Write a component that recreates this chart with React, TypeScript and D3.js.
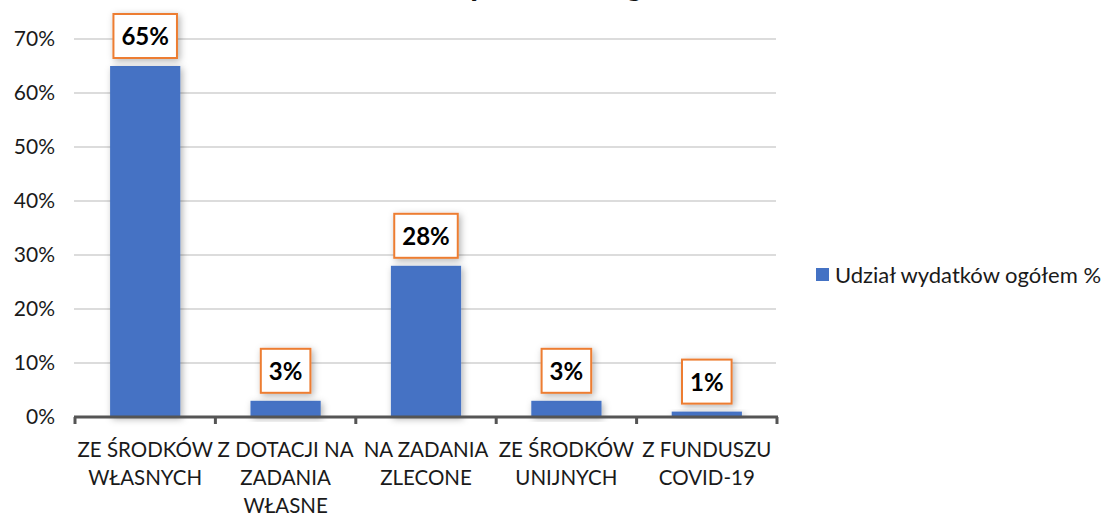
import * as d3 from "d3";
import { useEffect, useRef } from "react";

// data
const categories = [
  "ZE ŚRODKÓW\nWŁASNYCH",
  "Z DOTACJI NA\nZADANIA\nWŁASNE",
  "NA ZADANIA\nZLECONE",
  "ZE ŚRODKÓW\nUNIJNYCH",
  "Z FUNDUSZU\nCOVID-19",
];
const shares = [0.65, 0.03, 0.28, 0.03, 0.01];
const yTicks = [0, 0.1, 0.2, 0.3, 0.4, 0.5, 0.6, 0.7];
const seriesName = "Udział wydatków ogółem %";
const chartTitle = "Udział wydatków ogółem";

const W = 1107, H = 514;
const FONT = "Lato, 'Open Sans', sans-serif";

export default function App() {
  const ref = useRef<SVGSVGElement | null>(null);

  useEffect(() => {
    const svg = d3.select(ref.current);
    svg.selectAll("*").remove();

    const defs = svg.append("defs");
    const f = defs.append("filter").attr("id", "shadow")
      .attr("x", "-30%").attr("y", "-30%").attr("width", "160%").attr("height", "160%");
    f.append("feDropShadow").attr("dx", 2).attr("dy", 2)
      .attr("stdDeviation", 3.5).attr("flood-color", "#000").attr("flood-opacity", 0.3);

    svg.append("rect").attr("width", W).attr("height", H).attr("fill", "#fff");

    const x = d3.scaleBand<string>()
      .domain(categories)
      .range([75, 777])
      .paddingInner(0.5)
      .paddingOuter(0.25);
    const y = d3.scaleLinear().domain([0, 0.7]).range([417, 39]);

    // title (cut off at the top in the original, only descenders show)
    svg.append("text")
      .attr("x", 529).attr("y", -5)
      .attr("text-anchor", "middle")
      .style("font-family", FONT).style("font-weight", 700).style("font-size", "34px")
      .attr("fill", "#111")
      .text(chartTitle);

    // gridlines
    svg.append("g").selectAll("line")
      .data(yTicks.filter(d => d > 0))
      .join("line")
      .attr("x1", 74).attr("x2", 776)
      .attr("y1", d => y(d)).attr("y2", d => y(d))
      .attr("stroke", "#d0d0d0").attr("stroke-width", 1.3);

    // y tick labels
    svg.append("g").selectAll("text")
      .data(yTicks)
      .join("text")
      .attr("x", 55).attr("y", d => y(d) + 7)
      .attr("text-anchor", "end")
      .style("font-family", FONT).style("font-size", "21px")
      .attr("fill", "#1a1a1a")
      .text(d => d3.format(".0%")(d));

    // bars
    svg.append("g").selectAll("rect")
      .data(shares)
      .join("rect")
      .attr("x", (_, i) => x(categories[i])!)
      .attr("width", x.bandwidth())
      .attr("y", d => y(d))
      .attr("height", d => y(0) - y(d))
      .attr("fill", "#4472C4")
      .attr("filter", "url(#shadow)");

    // x axis
    const ax = svg.append("g");
    ax.append("line")
      .attr("x1", 74).attr("x2", 778).attr("y1", 417).attr("y2", 417)
      .attr("stroke", "#555").attr("stroke-width", 3);
    const tickX = [75, ...categories.map(c => x(c)! + x.bandwidth() + x.step() * 0.25)];
    tickX[tickX.length - 1] = 777;
    ax.selectAll("line.tk")
      .data(tickX)
      .join("line")
      .attr("class", "tk")
      .attr("x1", d => d).attr("x2", d => d)
      .attr("y1", 417).attr("y2", 424)
      .attr("stroke", "#555").attr("stroke-width", 3);

    // category labels
    const cl = svg.append("g").selectAll("text")
      .data(categories)
      .join("text")
      .attr("text-anchor", "middle")
      .style("font-family", FONT).style("font-size", "20.5px")
      .attr("fill", "#1a1a1a");
    cl.each(function (d) {
      const t = d3.select(this);
      const cx = x(d)! + x.bandwidth() / 2;
      d.split("\n").forEach((line, k) => {
        t.append("tspan").attr("x", cx).attr("y", 457 + k * 28).text(line);
      });
    });

    // data labels in boxes
    const lab = svg.append("g").selectAll("g")
      .data(shares)
      .join("g");
    lab.each(function (d, i) {
      const g = d3.select(this);
      const cx = x(categories[i])! + x.bandwidth() / 2;
      const bottom = y(d) - 8;
      const rect = g.append("rect");
      const t = g.append("text")
        .attr("x", cx).attr("y", bottom - 13)
        .attr("text-anchor", "middle")
        .style("font-family", FONT).style("font-weight", 700).style("font-size", "24px")
        .attr("fill", "#000")
        .text(d3.format(".0%")(d));
      const tw = (t.node() as SVGTextElement).getComputedTextLength();
      const bw = tw + 16;
      rect.attr("x", cx - bw / 2).attr("y", bottom - 44)
        .attr("width", bw).attr("height", 44)
        .attr("fill", "#fff")
        .attr("stroke", "#ED7D31").attr("stroke-width", 2)
        .attr("filter", "url(#shadow)");
    });

    // legend
    const lg = svg.append("g");
    lg.append("rect").attr("x", 816).attr("y", 268).attr("width", 13).attr("height", 13)
      .attr("fill", "#4472C4");
    lg.append("text").attr("x", 835).attr("y", 283)
      .style("font-family", FONT).style("font-size", "22px")
      .attr("fill", "#1a1a1a")
      .text(seriesName);
  }, []);

  return (
    <svg ref={ref} width={W} height={H}
      style={{ position: "absolute", left: 0, top: 0, display: "block" }} />
  );
}
